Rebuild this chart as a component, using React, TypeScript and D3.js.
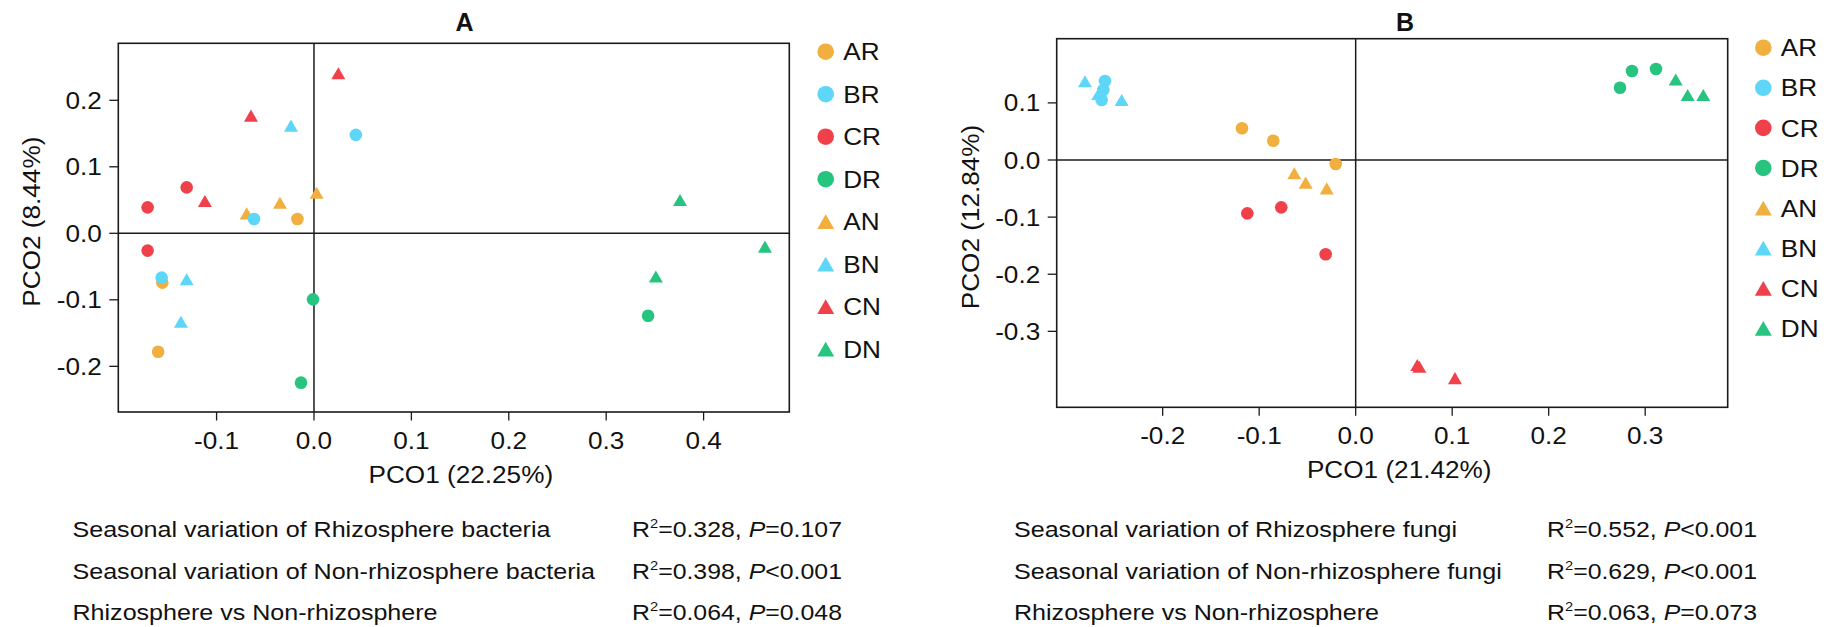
import React from "react";
import * as d3 from "d3";

const groups = ["AR", "BR", "CR", "DR", "AN", "BN", "CN", "DN"];
const groupColors = ["#F1AF3F", "#5DD6F8", "#F0414B", "#27C47F", "#F1AF3F", "#5DD6F8", "#F0414B", "#27C47F"];
const groupShapes = ["circle", "circle", "circle", "circle", "triangle", "triangle", "triangle", "triangle"];

// Panel A (bacteria) PCO1, PCO2 per group
const bacAR = [[-0.017, 0.0215], [-0.1557, -0.0742], [-0.16, -0.178]];
const bacBR = [[0.043, 0.148], [-0.0616, 0.0215], [-0.1564, -0.0667]];
const bacCR = [[-0.1307, 0.069], [-0.1708, 0.039], [-0.1708, -0.026]];
const bacDR = [[-0.001, -0.0993], [-0.0133, -0.2246], [0.343, -0.124]];
const bacAN = [[-0.0691, 0.03], [-0.0349, 0.046], [0.0027, 0.061]];
const bacBN = [[-0.0236, 0.162], [-0.1307, -0.069], [-0.1366, -0.133]];
const bacCN = [[0.025, 0.2406], [-0.0647, 0.177], [-0.112, 0.0486]];
const bacDN = [[0.3758, 0.05], [0.463, -0.02], [0.351, -0.065]];

// Panel B (fungi)
const funAR = [[-0.1178, 0.0555], [-0.0854, 0.0338], [-0.0207, -0.007]];
const funBR = [[-0.2598, 0.1383], [-0.2615, 0.1226], [-0.2632, 0.105]];
const funCR = [[-0.1123, -0.0934], [-0.0771, -0.0829], [-0.0311, -0.165]];
const funDR = [[0.2739, 0.1266], [0.2863, 0.1559], [0.3112, 0.1594]];
const funAN = [[-0.0636, -0.0233], [-0.0518, -0.0397], [-0.03, -0.0496]];
const funBN = [[-0.2805, 0.138], [-0.2667, 0.1156], [-0.2425, 0.105]];
const funCN = [[0.0638, -0.359], [0.066, -0.362], [0.1029, -0.382]];
const funDN = [[0.3316, 0.141], [0.344, 0.1138], [0.3602, 0.1138]];

const xTicksA = [-0.1, 0, 0.1, 0.2, 0.3, 0.4];
const yTicksA = [-0.2, -0.1, 0, 0.1, 0.2];
const xTicksB = [-0.2, -0.1, 0, 0.1, 0.2, 0.3];
const yTicksB = [-0.3, -0.2, -0.1, 0, 0.1];

const statLabelsA = ["Seasonal variation of Rhizosphere bacteria", "Seasonal variation of Non-rhizosphere bacteria", "Rhizosphere vs Non-rhizosphere"];
const statR2A = ["0.328", "0.398", "0.064"];
const statPA = ["=0.107", "<0.001", "=0.048"];
const statLabelsB = ["Seasonal variation of Rhizosphere fungi", "Seasonal variation of Non-rhizosphere fungi", "Rhizosphere vs Non-rhizosphere"];
const statR2B = ["0.552", "0.629", "0.063"];
const statPB = ["<0.001", "<0.001", "=0.073"];

const FONT = "'Liberation Sans', Arial, Helvetica, sans-serif";
const INK = "#111";

// triangle centred on its bounding box
const boxTriangle = {
  draw(ctx: any, size: number) {
    const s = Math.sqrt((4 * size) / Math.sqrt(3));
    const h = (s * Math.sqrt(3)) / 2;
    ctx.moveTo(0, -h / 2);
    ctx.lineTo(s / 2, h / 2);
    ctx.lineTo(-s / 2, h / 2);
    ctx.closePath();
  },
};

function shapePath(shape: string, size: number) {
  return d3.symbol().type(shape === "circle" ? d3.symbolCircle : (boxTriangle as any)).size(size)() as string;
}

function T(props: any) {
  const { x, y, size = 24, anchor = "start", sx = 1.09, weight, rotate, children } = props;
  const tr = `translate(${x},${y})` + (rotate ? ` rotate(${rotate})` : "") + ` scale(${sx},1)`;
  return (
    <text transform={tr} fontSize={size} textAnchor={anchor} fontWeight={weight} fill={INK} fontFamily={FONT}>
      {children}
    </text>
  );
}

const fmt = (d: number) => d.toFixed(1);

function Panel(props: any) {
  const { title, x0, x1, y0, y1, xDom, yDom, xTicks, yTicks, data, xLabel, yLabel, titleX, yLabelX, legX, legY0, legStep,
    statX, statRX, statLabels, statR2, statP } = props;
  const xs = d3.scaleLinear().domain(xDom).range([x0, x1]);
  const ys = d3.scaleLinear().domain(yDom).range([y1, y0]);
  const order = [4, 5, 6, 7, 0, 1, 2, 3];
  const circleSize = Math.PI * 6.3 * 6.3;
  const triSize = (Math.sqrt(3) / 4) * 14 * 14;
  const legCircle = Math.PI * 8.3 * 8.3;
  const legTri = (Math.sqrt(3) / 4) * 17 * 17;
  const statBase = [537, 578.5, 619.5];
  return (
    <g>
      <T x={titleX} y={30.7} size={25} weight="bold" anchor="middle" sx={1.0}>{title}</T>
      {/* zero lines */}
      <line x1={xs(0)} x2={xs(0)} y1={y0} y2={y1} stroke="#1a1a1a" strokeWidth={1.5} />
      <line x1={x0} x2={x1} y1={ys(0)} y2={ys(0)} stroke="#1a1a1a" strokeWidth={1.5} />
      {/* points */}
      {order.map((gi) =>
        data[gi].map((p: number[], k: number) => (
          <path
            key={gi + "-" + k}
            d={shapePath(groupShapes[gi], groupShapes[gi] === "circle" ? circleSize : triSize)}
            transform={`translate(${xs(p[0])},${ys(p[1])})`}
            fill={groupColors[gi]}
          />
        ))
      )}
      <rect x={x0} y={y0} width={x1 - x0} height={y1 - y0} fill="none" stroke="#1a1a1a" strokeWidth={1.6} />
      {xTicks.map((t: number) => (
        <g key={"x" + t}>
          <line x1={xs(t)} x2={xs(t)} y1={y1} y2={y1 + 8.5} stroke="#1a1a1a" strokeWidth={1.3} />
          <T x={xs(t)} y={y1 + 37} anchor="middle">{fmt(t)}</T>
        </g>
      ))}
      {yTicks.map((t: number) => (
        <g key={"y" + t}>
          <line x1={x0 - 9} x2={x0} y1={ys(t)} y2={ys(t)} stroke="#1a1a1a" strokeWidth={1.3} />
          <T x={x0 - 16.5} y={ys(t) + 8.5} anchor="end">{fmt(t)}</T>
        </g>
      ))}
      <T x={(x0 + x1) / 2 + 7} y={y1 + 70.5} anchor="middle">{xLabel}</T>
      <T x={yLabelX} y={(y0 + y1) / 2 - 6} anchor="middle" rotate={-90}>{yLabel}</T>
      {groups.map((g, i) => (
        <g key={"l" + g}>
          <path
            d={shapePath(groupShapes[i], groupShapes[i] === "circle" ? legCircle : legTri)}
            transform={`translate(${legX},${legY0 + i * legStep})`}
            fill={groupColors[i]}
          />
          <T x={legX + 17.5} y={legY0 + i * legStep + 8.6}>{g}</T>
        </g>
      ))}
      {statLabels.map((s: string, i: number) => (
        <g key={"s" + i}>
          <T x={statX} y={statBase[i]} size={22} sx={1.14}>{s}</T>
          <T x={statRX} y={statBase[i]} size={22} sx={1.13}>
            R<tspan fontSize={13} dy={-9}>2</tspan>
            <tspan dy={9}>{"=" + statR2[i] + ", "}</tspan>
            <tspan fontStyle="italic">P</tspan>
            {statP[i]}
          </T>
        </g>
      ))}
    </g>
  );
}

export default function App() {
  const dataA = [bacAR, bacBR, bacCR, bacDR, bacAN, bacBN, bacCN, bacDN];
  const dataB = [funAR, funBR, funCR, funDR, funAN, funBN, funCN, funDN];
  return (
    <svg width={1834} height={627} style={{ position: "absolute", left: 0, top: 0, background: "#fff" }}>
      <rect width={1834} height={627} fill="#fff" />
      <Panel
        title="A" titleX={464.5}
        x0={118.3} x1={789.3} y0={43.3} y1={412}
        xDom={[-0.2009, 0.488]} yDom={[-0.2687, 0.2857]}
        xTicks={xTicksA} yTicks={yTicksA} data={dataA}
        xLabel="PCO1 (22.25%)" yLabel="PCO2 (8.44%)" yLabelX={40}
        legX={825.7} legY0={51.7} legStep={42.5}
        statX={72.5} statRX={632} statLabels={statLabelsA} statR2={statR2A} statP={statPA}
      />
      <Panel
        title="B" titleX={1405}
        x0={1056.7} x1={1727.7} y0={38.7} y1={407.3}
        xDom={[-0.3098, 0.3855]} yDom={[-0.433, 0.2124]}
        xTicks={xTicksB} yTicks={yTicksB} data={dataB}
        xLabel="PCO1 (21.42%)" yLabel="PCO2 (12.84%)" yLabelX={979}
        legX={1763.3} legY0={47.7} legStep={40.1}
        statX={1014} statRX={1547} statLabels={statLabelsB} statR2={statR2B} statP={statPB}
      />
    </svg>
  );
}
